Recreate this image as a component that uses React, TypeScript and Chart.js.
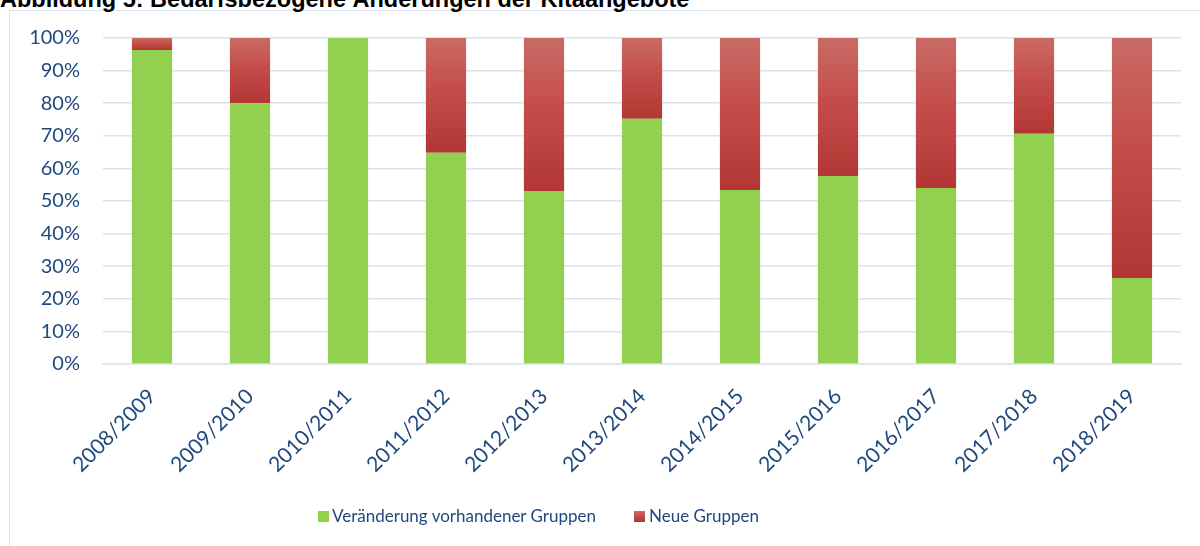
import React, { useEffect, useRef } from "react";
import { Chart, registerables } from "chart.js";

Chart.register(...registerables);

const titleText = "Abbildung 5: Bedarfsbezogene Änderungen der Kitaangebote";
const categories = [
  "2008/2009", "2009/2010", "2010/2011", "2011/2012", "2012/2013", "2013/2014",
  "2014/2015", "2015/2016", "2016/2017", "2017/2018", "2018/2019",
];
const existingGroups = [96.3, 80, 100, 64.8, 53.1, 75.2, 53.4, 57.7, 54.0, 70.6, 26.4];
const newGroups = [3.7, 20, 0, 35.2, 46.9, 24.8, 46.6, 42.3, 46.0, 29.4, 73.6];
const seriesNames = ["Veränderung vorhandener Gruppen", "Neue Gruppen"];
const yTicks = [0, 10, 20, 30, 40, 50, 60, 70, 80, 90, 100];

const TEXT = "#1F497D";
const GREEN = "#92D050";
const GRID = "#D9E3F1";
const FONT = "Lato, 'Open Sans', sans-serif";

export default function App() {
  const ref = useRef<HTMLCanvasElement | null>(null);

  useEffect(() => {
    if (!ref.current) return;
    const chart = new Chart(ref.current, {
      type: "bar",
      data: {
        labels: categories,
        datasets: [
          {
            label: seriesNames[0],
            data: existingGroups,
            backgroundColor: GREEN,
            borderWidth: 0,
            barPercentage: 0.41,
            categoryPercentage: 1,
          },
          {
            label: seriesNames[1],
            data: newGroups,
            backgroundColor: (ctx: any) => {
              const ch = ctx.chart;
              if (!ch.chartArea || ctx.type !== "data" || !ch.scales.y) return "#C0504D";
              const ys = ch.scales.y;
              const top = ys.getPixelForValue(existingGroups[ctx.dataIndex] + newGroups[ctx.dataIndex]);
              const bottom = ys.getPixelForValue(existingGroups[ctx.dataIndex]);
              if (!(bottom > top)) return "#C0504D";
              const g = ch.ctx.createLinearGradient(0, top, 0, bottom);
              g.addColorStop(0, "#C96B66");
              g.addColorStop(0.45, "#C54D49");
              g.addColorStop(1, "#B23734");
              return g;
            },
            borderWidth: 0,
            barPercentage: 0.41,
            categoryPercentage: 1,
          },
        ],
      },
      options: {
        responsive: false,
        maintainAspectRatio: false,
        animation: false,
        layout: { padding: { left: 0, top: 38, right: 19, bottom: 62 } },
        plugins: {
          legend: { display: false },
          title: { display: false },
          tooltip: { enabled: false },
        },
        scales: {
          x: {
            stacked: true,
            grid: { display: false, drawTicks: false },
            border: { display: true, color: GRID, width: 1.5 },
            ticks: {
              color: TEXT,
              font: { family: FONT, size: 21 },
              maxRotation: 45,
              minRotation: 45,
              padding: 20,
              autoSkip: false,
            },
            afterFit: (s: any) => {
              s.height = 120;
            },
          },
          y: {
            stacked: true,
            min: 0,
            max: 100,
            afterBuildTicks: (s: any) => {
              s.ticks = yTicks.map((v) => ({ value: v }));
            },
            grid: { color: GRID, lineWidth: 1.5, drawTicks: false },
            border: { display: false },
            ticks: {
              color: TEXT,
              font: { family: FONT, size: 20 },
              padding: 23,
              callback: (v: any) => v + "%",
            },
            afterFit: (s: any) => {
              s.width = 103;
            },
          },
        },
      },
    });
    return () => chart.destroy();
  }, []);

  return (
    <div
      style={{
        position: "fixed",
        left: 0,
        top: 0,
        width: 1200,
        height: 546,
        overflow: "hidden",
        background: "#fff",
      }}
    >
      <div
        style={{
          position: "absolute",
          left: 9,
          top: 10,
          width: 1250,
          height: 600,
          border: "1px solid " + GRID,
          boxSizing: "border-box",
        }}
      />
      <div
        style={{
          position: "absolute",
          left: 0,
          top: -13,
          whiteSpace: "nowrap",
          fontFamily: "Arial, 'Liberation Sans', sans-serif",
          fontWeight: "bold",
          fontSize: 23.5,
          lineHeight: "24px",
          color: "#000",
        }}
      >
        {titleText}
      </div>
      <canvas
        ref={ref}
        width={1200}
        height={546}
        style={{ position: "absolute", left: 0, top: 0, width: 1200, height: 546 }}
      />
      <div
        style={{
          position: "absolute",
          left: 318,
          top: 505,
          display: "flex",
          alignItems: "center",
          fontFamily: FONT,
          fontSize: 17,
          color: TEXT,
          whiteSpace: "nowrap",
          lineHeight: "22px",
        }}
      >
        <span style={{ display: "inline-block", width: 11, height: 11, background: GREEN, marginRight: 3 }} />
        <span>{seriesNames[0]}</span>
        <span
          style={{
            display: "inline-block",
            width: 11,
            height: 11,
            marginLeft: 38,
            marginRight: 4,
            background: "linear-gradient(#C96B66, #C54D49 45%, #B23734)",
          }}
        />
        <span>{seriesNames[1]}</span>
      </div>
    </div>
  );
}
